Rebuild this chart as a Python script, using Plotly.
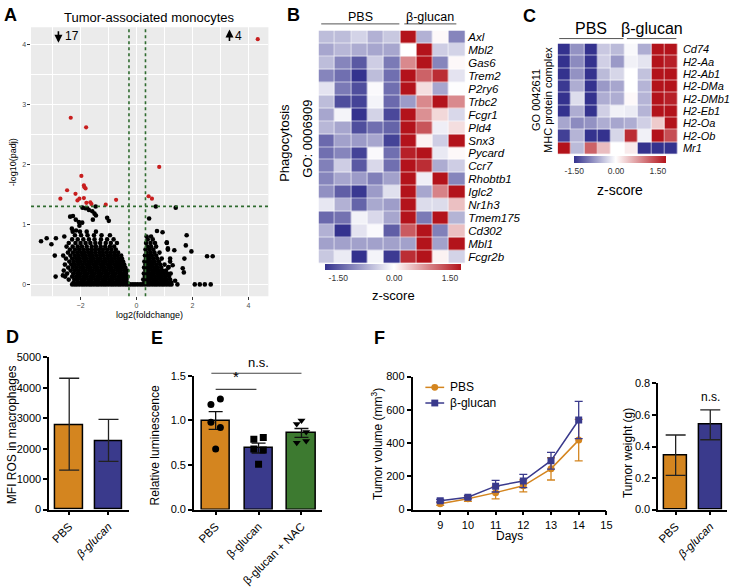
import plotly.graph_objects as go

W, H = 740, 587
def fx(px): return px / W
def fy(py): return 1 - py / H

FONT = "Liberation Sans, Arial, sans-serif"
ORANGE = "#D4851F"
NAVY = "#3A3A8C"
GREEN = "#3D7A30"
RED_PT = "#C81E1E"
THR_GREEN = "#2F6B2F"

# ---------------- Panel A: volcano ----------------
red_x = [-2.35, -1.80, -1.97, -1.88, -1.82, -2.48, -2.18, -2.04, -2.11, -1.88, -2.72,
         -1.79, -1.65, -1.61, -1.10, -0.73, -1.86, 0.81, 0.43, 0.55, 4.33]
red_y = [2.78, 2.62, 1.81, 1.65, 1.60, 1.57, 1.51, 1.43, 1.40, 1.44, 1.43,
         1.36, 1.37, 1.34, 1.33, 1.41, 1.62, 1.96, 1.47, 1.43, 4.09]

baseline_x = [-2.30, -2.21, -2.13, -2.04, -1.95, -1.87, -1.78, -1.69, -1.61, -1.52, -1.43,
              -1.35, -1.26, -1.17, -1.09, -1.00, -0.91, -0.83, -0.74, -0.65, -0.57, -0.48,
              -0.39, -0.31, -0.22, -0.13, -0.05, 0.04, 0.13, 0.21, 0.30, 0.39, 0.47, 0.56,
              0.65, 0.73, 0.82, 0.91, 0.99, 1.08, 1.17, 1.25]

left_cloud_rows = [
    (0.03, [-2.25, -2.12, -2.0, -1.88, -1.76, -1.64, -1.52, -1.4, -1.28, -1.16, -1.04, -0.92, -0.8, -0.68, -0.56, -0.44, -0.34]),
    (0.08, [-2.42, -2.22, -2.1, -1.97, -1.85, -1.72, -1.6, -1.47, -1.35, -1.22, -1.1, -0.97, -0.85, -0.72, -0.6, -0.48, -0.36]),
    (0.13, [-2.55, -2.3, -2.16, -2.04, -1.91, -1.79, -1.66, -1.54, -1.41, -1.29, -1.16, -1.04, -0.91, -0.79, -0.66, -0.54, -0.42, -0.32]),
    (0.18, [-2.48, -2.26, -2.12, -2.0, -1.87, -1.75, -1.62, -1.5, -1.37, -1.25, -1.12, -1.0, -0.87, -0.75, -0.62, -0.5, -0.38]),
    (0.23, [-2.6, -2.35, -2.2, -2.07, -1.94, -1.82, -1.69, -1.57, -1.44, -1.32, -1.19, -1.07, -0.94, -0.82, -0.69, -0.57, -0.44, -0.34]),
    (0.28, [-2.44, -2.27, -2.14, -2.01, -1.89, -1.76, -1.64, -1.51, -1.39, -1.26, -1.14, -1.01, -0.89, -0.76, -0.64, -0.52, -0.4]),
    (0.33, [-2.56, -2.33, -2.2, -2.06, -1.93, -1.8, -1.68, -1.55, -1.43, -1.3, -1.18, -1.05, -0.93, -0.8, -0.68, -0.56, -0.44]),
    (0.38, [-2.4, -2.25, -2.12, -1.99, -1.86, -1.73, -1.61, -1.48, -1.36, -1.23, -1.11, -0.98, -0.86, -0.73, -0.6, -0.48]),
    (0.43, [-2.52, -2.3, -2.16, -2.03, -1.9, -1.78, -1.65, -1.53, -1.4, -1.28, -1.15, -1.02, -0.9, -0.77, -0.64, -0.52]),
    (0.48, [-2.62, -2.36, -2.2, -2.07, -1.94, -1.82, -1.69, -1.56, -1.43, -1.3, -1.17, -1.04, -0.92, -0.8, -0.68, -0.55]),
    (0.53, [-2.45, -2.27, -2.12, -1.98, -1.85, -1.72, -1.6, -1.47, -1.33, -1.2, -1.06, -0.93, -0.8, -0.66]),
    (0.58, [-2.38, -2.2, -2.05, -1.9, -1.76, -1.62, -1.48, -1.34, -1.2, -1.05, -0.9, -0.74]),
    (0.63, [-2.5, -2.28, -2.1, -1.95, -1.78, -1.6, -1.45, -1.28, -1.12, -0.95, -0.8]),
    (0.69, [-2.42, -2.18, -2.0, -1.82, -1.65, -1.47, -1.3, -1.1, -0.92, -0.7]),
    (0.75, [-2.3, -2.1, -1.9, -1.7, -1.5, -1.27, -1.05, -0.82]),
    (0.82, [-2.2, -1.98, -1.75, -1.52, -1.25, -0.95]),
    (0.88, [-2.28, -2.02, -1.78, -1.45]),
]
right_cloud_rows = [
    (0.03, [0.28, 0.4, 0.52, 0.64, 0.76, 0.88, 1.0, 1.12, 1.24]),
    (0.08, [0.24, 0.36, 0.48, 0.6, 0.72, 0.84, 0.96, 1.08, 1.2]),
    (0.13, [0.3, 0.42, 0.54, 0.66, 0.78, 0.9, 1.02, 1.16]),
    (0.18, [0.26, 0.38, 0.5, 0.62, 0.74, 0.86, 0.98, 1.1, 1.22]),
    (0.23, [0.32, 0.44, 0.56, 0.68, 0.8, 0.92, 1.05]),
    (0.28, [0.27, 0.39, 0.51, 0.63, 0.75, 0.88, 1.14]),
    (0.33, [0.32, 0.45, 0.57, 0.7, 0.84, 1.0]),
    (0.38, [0.28, 0.4, 0.52, 0.65, 0.8, 1.2]),
    (0.43, [0.34, 0.47, 0.6, 0.74, 0.9]),
    (0.48, [0.3, 0.42, 0.55, 0.7]),
    (0.53, [0.36, 0.5, 0.64, 0.82]),
    (0.58, [0.32, 0.46, 0.6, 1.12]),
    (0.63, [0.38, 0.52, 0.7]),
    (0.69, [0.34, 0.5, 0.66, 1.08]),
    (0.75, [0.4, 0.58]),
    (0.80, [0.36, 0.52]),
]
outlier_x = [-3.41, -3.21, -3.04, -2.88, -2.58, -2.92, -2.89, -2.63, -2.37, -2.27, -2.17, -2.06,
             -1.94, -2.31, -2.16, -2.04, -1.93, -1.76, -1.70, -1.58, -1.46, -1.50, -1.56, -1.05,
             -0.99, -1.45, -1.83, 0.45, 0.69, 1.40, 0.73, 0.93, 1.79, 1.76, 1.96, 1.71, 1.65,
             1.69, 1.46, 2.08, 2.26, 2.44, 2.65, 2.52, 2.72, 1.35, 1.08, 1.20, 1.29, 1.12, 1.14, 1.38]
outlier_y = [0.72, 0.77, 0.67, 0.77, 0.80, 0.48, 0.13, 0.15, 1.13, 1.14, 1.08, 1.04,
             1.03, 0.93, 0.90, 0.98, 1.28, 1.27, 1.24, 1.22, 1.30, 1.18, 1.08, 1.11,
             1.06, 1.15, 1.27, 1.10, 1.30, 1.28, 0.89, 0.87, 0.82, 0.65, 0.55, 0.43, 0.27,
             0.20, 0.0, 0.0, 0.0, 0.0, 0.0, 0.47, 0.47, 0.57, 0.70, 0.43, 0.32, 0.60, 0.29, 0.06]

fc_thresholds = [-0.27, 0.32]
padj_threshold = 1.301
count_down, count_up = "17", "4"

# ---------------- Panel B: phagocytosis heatmap ----------------
genes_B = ["Axl", "Mbl2", "Gas6", "Trem2", "P2ry6", "Trbc2", "Fcgr1", "Pld4", "Snx3",
           "Pycard", "Ccr7", "Rhobtb1", "Iglc2", "Nr1h3", "Tmem175", "Cd302", "Mbl1", "Fcgr2b"]
z_B = [
    [-0.6, -0.6, -0.4, -0.7, -0.5, 1.8, -0.7, 0.05, -1.1],
    [-0.8, -0.65, -0.75, -0.8, -0.8, 0.0, 1.8, -0.45, -0.4],
    [-0.6, -1.1, -1.5, -0.45, -1.2, 0.9, 1.8, -1.1, 0.05],
    [-1.1, -1.3, -1.9, -0.6, -1.3, 1.8, 1.2, 1.6, -0.25],
    [-0.25, -1.2, -1.6, -0.05, -1.3, 1.8, 0.25, -0.8, -0.02],
    [-0.6, -1.6, -1.7, -0.1, -1.35, -0.9, 0.9, 1.8, 0.9],
    [-0.8, -0.1, -1.9, -0.4, -1.65, 1.8, 0.85, 0.3, -0.35],
    [-0.65, -0.8, -1.6, -1.3, -1.4, 1.8, 1.3, -0.15, 0.25],
    [-1.35, -0.85, -0.9, -0.8, -1.7, 1.8, 0.1, -0.45, 1.8],
    [-1.3, -1.1, -1.7, -0.05, -1.3, 1.7, 1.8, -0.2, 0.05],
    [-1.15, -0.45, -1.5, -0.35, -1.3, 1.8, 1.6, -0.75, -0.45],
    [-1.1, -0.8, -0.9, -1.15, -0.85, 1.8, -0.15, 1.8, -1.1],
    [-1.0, -1.45, -1.8, -0.9, -0.28, 1.8, -0.8, 0.95, 1.8],
    [-0.22, -0.7, -1.4, -0.78, -0.88, 1.8, -0.32, -0.32, 0.48],
    [-1.35, -1.27, -0.12, -0.35, -0.8, 1.8, -1.2, 1.8, -0.68],
    [-0.7, -1.85, -0.25, -0.05, -1.45, 1.25, 1.8, -1.15, 0.48],
    [-0.85, -0.85, -0.85, -0.85, -0.85, -0.85, 1.8, -0.85, 1.8],
    [-0.5, -0.18, -1.85, -0.1, -1.78, 1.6, 1.8, 0.1, -0.4],
]

# ---------------- Panel C: MHC heatmap ----------------
genes_C = ["Cd74", "H2-Aa", "H2-Ab1", "H2-DMa", "H2-DMb1", "H2-Eb1", "H2-Oa", "H2-Ob", "Mr1"]
z_C = [
    [-1.5, -0.8, -1.7, -0.4, -0.5, -0.05, -0.6, 1.8, 1.8],
    [-1.6, -0.85, -1.7, -0.35, -0.75, -0.1, -0.2, 1.8, 1.7],
    [-1.6, -0.8, -1.7, -0.5, -0.3, 0.0, -0.45, 1.8, 1.8],
    [-1.45, -0.6, -1.7, -0.75, -0.65, 0.0, -0.55, 1.8, 1.8],
    [-1.6, -0.25, -1.7, -0.6, -0.6, 0.05, -0.55, 1.8, 1.7],
    [-1.65, -0.6, -1.7, -0.35, -0.1, -0.15, -0.55, 1.8, 1.8],
    [-0.65, -0.85, -0.8, -0.6, -0.65, -0.6, -0.35, 0.4, 1.8],
    [-1.4, -0.55, -1.85, -1.7, -0.3, 1.6, -0.1, 1.8, 1.35],
    [1.8, -0.5, 1.2, 0.5, 0.0, 0.15, -1.5, -1.65, -1.65],
]
n_pbs, n_bg = 5, 4

# ---------------- Panel D ----------------
D_groups = ["PBS", "<i>β-glucan</i>"]
D_mean = [2783, 2248]
D_err_plus = [1530, 716]
D_err_minus = [1488, 664]

# ---------------- Panel E ----------------
E_groups = ["PBS", "β-glucan", "β-glucan + NAC"]
E_mean = [1.00, 0.69, 0.86]
E_sem = [0.10, 0.055, 0.05]
E_pts = [[1.18, 1.24, 0.98, 0.92, 0.68],
         [0.79, 0.81, 0.68, 0.67, 0.51],
         [0.96, 1.00, 0.87, 0.75, 0.77]]
E_offsets = [[-0.11, 0.11, -0.11, 0.11, 0.0],
             [-0.11, 0.11, -0.11, 0.11, 0.0],
             [-0.11, 0.0, 0.11, -0.11, 0.11]]
E_symbols = ["circle", "square", "triangle-down"]
E_star = (0.0, 0.95, 1.35)
E_ns = (-0.1, 2.0, 1.53)

# ---------------- Panel F ----------------
days = [9, 10, 11, 12, 13, 14]
vol_pbs = [35, 65, 102, 143, 245, 418]
vol_pbs_err = [10, 15, 38, 36, 67, 125]
vol_bg = [53, 74, 141, 172, 294, 539]
vol_bg_err = [8, 10, 35, 40, 50, 112]
series_names = ["PBS", "β-glucan"]

F_groups = ["PBS", "<i>β-glucan</i>"]
F_weight = [0.345, 0.538]
F_weight_err = [0.128, 0.095]

# =========================================================
fig = go.Figure()

# A
black_x, black_y = list(baseline_x), [0.0] * len(baseline_x)
for yy, xs in left_cloud_rows + right_cloud_rows:
    black_x += xs
    black_y += [yy] * len(xs)
black_x += outlier_x
black_y += outlier_y
fig.add_trace(go.Scatter(x=black_x, y=black_y, mode="markers", xaxis="x", yaxis="y",
                         marker=dict(color="black", size=4.6), showlegend=False, hoverinfo="skip"))
fig.add_trace(go.Scatter(x=red_x, y=red_y, mode="markers", xaxis="x", yaxis="y",
                         marker=dict(color=RED_PT, size=4.2), showlegend=False))

def cscale(zmin, zmax):
    m = -zmin / (zmax - zmin)
    return [[0, "#34328E"], [m, "#FFFFFF"], [1, "#B3131B"]]

# B heatmap
B_min, B_max = -1.85, 1.8
fig.add_trace(go.Heatmap(z=z_B, x=list(range(n_pbs + n_bg)), y=genes_B, xaxis="x2", yaxis="y2",
                         zmin=B_min, zmax=B_max, colorscale=cscale(B_min, B_max), xgap=0.6, ygap=0.6,
                         colorbar=dict(orientation="h", x=fx(395.5), xanchor="center", y=fy(263.5),
                                       yanchor="top", len=137.6 / W, lenmode="fraction", thickness=6,
                                       tickvals=[-1.5, 0, 1.5], ticktext=["-1.50", "0.00", "1.50"],
                                       tickfont=dict(size=8.5, family=FONT, color="#333"), ticks="",
                                       outlinewidth=0, xpad=0, ypad=0)))
# C heatmap
C_min, C_max = -1.5, 1.8
fig.add_trace(go.Heatmap(z=z_C, x=list(range(n_pbs + n_bg)), y=genes_C, xaxis="x3", yaxis="y3",
                         zmin=C_min, zmax=C_max, colorscale=cscale(C_min, C_max), xgap=0.6, ygap=0.6,
                         colorbar=dict(orientation="h", x=fx(625), xanchor="center", y=fy(153.2),
                                       yanchor="top", len=93.4 / W, lenmode="fraction", thickness=7,
                                       tickvals=[-1.5, 0, 1.5], ticktext=["-1.50", "0.00", "1.50"],
                                       tickfont=dict(size=8.5, family=FONT, color="#333"), ticks="",
                                       outlinewidth=0, xpad=0, ypad=0)))

# D bars
fig.add_trace(go.Bar(x=[0, 1], y=D_mean, xaxis="x4", yaxis="y4", width=0.69,
                     marker=dict(color=[ORANGE, NAVY], line=dict(color="black", width=1.5)),
                     error_y=dict(type="data", symmetric=False, array=D_err_plus, arrayminus=D_err_minus,
                                  color="#222", thickness=1.3, width=10),
                     showlegend=False))

# E bars + points
fig.add_trace(go.Bar(x=[0, 1, 2], y=E_mean, xaxis="x5", yaxis="y5", width=0.66,
                     marker=dict(color=[ORANGE, NAVY, GREEN], line=dict(color="black", width=1.5)),
                     error_y=dict(type="data", array=E_sem, color="#111", thickness=1.3, width=7),
                     showlegend=False))
for i in range(3):
    fig.add_trace(go.Scatter(x=[i + o for o in E_offsets[i]], y=E_pts[i], mode="markers",
                             xaxis="x5", yaxis="y5", showlegend=False,
                             marker=dict(color="black", size=7, symbol=E_symbols[i])))

# F line
fig.add_trace(go.Scatter(x=days, y=vol_pbs, mode="lines+markers", name=series_names[0], xaxis="x6", yaxis="y6",
                         line=dict(color=ORANGE, width=1.5), marker=dict(symbol="circle", size=7, color=ORANGE),
                         error_y=dict(type="data", array=vol_pbs_err, color=ORANGE, thickness=1.3, width=4),
                         showlegend=False))
fig.add_trace(go.Scatter(x=days, y=vol_bg, mode="lines+markers", name=series_names[1], xaxis="x6", yaxis="y6",
                         line=dict(color=NAVY, width=1.5), marker=dict(symbol="square", size=7, color=NAVY),
                         error_y=dict(type="data", array=vol_bg_err, color=NAVY, thickness=1.3, width=4),
                         showlegend=False))
# F bars
fig.add_trace(go.Bar(x=[0, 1], y=F_weight, xaxis="x7", yaxis="y7", width=0.67,
                     marker=dict(color=[ORANGE, NAVY], line=dict(color="black", width=1.5)),
                     error_y=dict(type="data", array=F_weight_err, color="#222", thickness=1.3, width=10),
                     showlegend=False))

# ---------------- axes ----------------
gp_axis = dict(showline=True, linecolor="black", linewidth=1.5, ticks="outside", ticklen=4,
               tickwidth=1.5, tickcolor="black", showgrid=False, zeroline=False,
               tickfont=dict(size=11, family=FONT, color="black"))
cat_font = dict(size=11.5, family=FONT, color="black")

layout = dict(
    width=W, height=H, autosize=False, margin=dict(l=0, r=0, t=0, b=0),
    paper_bgcolor="white", plot_bgcolor="rgba(0,0,0,0)",
    font=dict(family=FONT, color="black"),
    bargap=0, showlegend=False,
    # A
    xaxis=dict(domain=[fx(29.3), fx(269.3)], range=[-3.77, 4.71], anchor="y",
               tickvals=[-2, 0, 2, 4], showgrid=True, gridcolor="white", gridwidth=1.2,
               minor=dict(dtick=1, tick0=-3, showgrid=True, gridcolor="white", gridwidth=0.6),
               zeroline=False, showline=False, ticks="outside", ticklen=2.5, tickcolor="#333",
               tickwidth=0.8, tickfont=dict(size=7, color="#4D4D4D", family=FONT)),
    yaxis=dict(domain=[fy(296.7), fy(21.7)], range=[-0.196, 4.29], anchor="x",
               tickvals=[0, 1, 2, 3, 4], showgrid=True, gridcolor="white", gridwidth=1.2,
               minor=dict(dtick=0.5, showgrid=True, gridcolor="white", gridwidth=0.6),
               zeroline=False, showline=False, ticks="outside", ticklen=2.5, tickcolor="#333",
               tickwidth=0.8, tickfont=dict(size=7, color="#4D4D4D", family=FONT)),
    # B
    xaxis2=dict(domain=[fx(320), fx(468.3)], anchor="y2", range=[-0.5, 8.5], showticklabels=False,
                showgrid=False, zeroline=False, ticks=""),
    yaxis2=dict(domain=[fy(263.3), fy(25)], anchor="x2", autorange="reversed", side="right",
                tickvals=genes_B, ticktext=["<i>%s</i>" % g for g in genes_B], ticks="",
                showgrid=False, zeroline=False, ticklabelstandoff=2,
                tickfont=dict(size=11.5, family=FONT, color="black")),
    # C
    xaxis3=dict(domain=[fx(561.7), fx(683.3)], anchor="y3", range=[-0.5, 8.5], showticklabels=False,
                showgrid=False, zeroline=False, ticks=""),
    yaxis3=dict(domain=[fy(151.7), fy(38.3)], anchor="x3", autorange="reversed", side="right",
                tickvals=genes_C, ticktext=["<i>%s</i>" % g for g in genes_C], ticks="",
                showgrid=False, zeroline=False, ticklabelstandoff=4,
                tickfont=dict(size=11, family=FONT, color="black")),
    # D
    xaxis4=dict(gp_axis, domain=[fx(47.7), fx(128.3)], anchor="y4", range=[-0.51, 1.52],
                tickvals=[0, 1], ticktext=D_groups, tickangle=-45, tickfont=cat_font),
    yaxis4=dict(gp_axis, domain=[fy(515), fy(359.3)], anchor="x4", range=[0, 5000], dtick=1000),
    # E
    xaxis5=dict(gp_axis, domain=[fx(194), fx(324)], anchor="y5", range=[-0.507, 2.49],
                tickvals=[0, 1, 2], ticktext=E_groups, tickangle=-45, tickfont=cat_font),
    yaxis5=dict(gp_axis, domain=[fy(515), fy(378.3)], anchor="x5", range=[0, 1.5],
                tickvals=[0, 0.5, 1.0, 1.5], ticktext=["0.0", "0.5", "1.0", "1.5"]),
    # F line
    xaxis6=dict(gp_axis, domain=[fx(415), fx(611)], anchor="y6", range=[8, 15],
                tickvals=[9, 10, 11, 12, 13, 14, 15]),
    yaxis6=dict(gp_axis, domain=[fy(515), fy(379)], anchor="x6", range=[0, 800], dtick=200),
    # F bar
    xaxis7=dict(gp_axis, domain=[fx(663.3), fx(733.3)], anchor="y7", range=[-0.506, 1.494],
                tickvals=[0, 1], ticktext=F_groups, tickangle=-45, tickfont=cat_font),
    yaxis7=dict(gp_axis, domain=[fy(515), fy(386)], anchor="x7", range=[0, 0.8],
                tickvals=[0, 0.2, 0.4, 0.6, 0.8], ticktext=["0.0", "0.2", "0.4", "0.6", "0.8"]),
)
fig.update_layout(**layout)

shapes = []
# A grey panel background
shapes.append(dict(type="rect", xref="x domain", yref="y domain", x0=0, x1=1, y0=0, y1=1,
                   fillcolor="#EBEBEB", line=dict(width=0), layer="below"))
for t in fc_thresholds:
    shapes.append(dict(type="line", xref="x", yref="y domain", x0=t, x1=t, y0=0, y1=1,
                       line=dict(color=THR_GREEN, width=1.6, dash="dot"), layer="above"))
shapes.append(dict(type="line", xref="x domain", yref="y", x0=0, x1=1, y0=padj_threshold, y1=padj_threshold,
                   line=dict(color=THR_GREEN, width=1.6, dash="dot"), layer="above"))

def hline(x0, x1, y, color="#555", w=1.0):
    shapes.append(dict(type="line", xref="paper", yref="paper", x0=fx(x0), x1=fx(x1), y0=fy(y), y1=fy(y),
                       line=dict(color=color, width=w)))
hline(322.7, 401.7, 18.3)
hline(406.7, 459.3, 18.3)
hline(563.3, 628.3, 33.3)
hline(631.7, 681.7, 33.3)

# E significance bars (data -> paper)
E_dom_x = (fx(194), fx(324)); E_rx = (-0.507, 2.49)
E_dom_y = (fy(515), fy(378.3)); E_ry = (0, 1.5)
def epx(v): return E_dom_x[0] + (v - E_rx[0]) / (E_rx[1] - E_rx[0]) * (E_dom_x[1] - E_dom_x[0])
def epy(v): return E_dom_y[0] + (v - E_ry[0]) / (E_ry[1] - E_ry[0]) * (E_dom_y[1] - E_dom_y[0])
for (a, b, yv) in (E_star, E_ns):
    shapes.append(dict(type="line", xref="paper", yref="paper", x0=epx(a), x1=epx(b), y0=epy(yv), y1=epy(yv),
                       line=dict(color="#444", width=1.2)))

# manual legend for panel F
leg_rows = [(390, ORANGE, "circle"), (406, NAVY, "square")]
for (ly, col, sym) in leg_rows:
    hline(428, 447, ly, color=col, w=1.5)
    r = 3.5
    shapes.append(dict(type="circle" if sym == "circle" else "rect", xref="paper", yref="paper",
                       x0=fx(437.5 - r), x1=fx(437.5 + r), y0=fy(ly + r), y1=fy(ly - r),
                       fillcolor=col, line=dict(color=col, width=0)))
fig.update_layout(shapes=shapes)

ann = []
def txt(x, y, s, size=12, bold=False, angle=0, color="black", xanchor="center", yanchor="middle",
        xref="paper", yref="paper", family=FONT):
    ann.append(dict(x=x, y=y, xref=xref, yref=yref, text=("<b>%s</b>" % s) if bold else s, showarrow=False,
                    font=dict(size=size, family=family, color=color), textangle=angle,
                    xanchor=xanchor, yanchor=yanchor))

# panel letters
txt(fx(9), fy(9), "A", 18, True)
txt(fx(295), fy(9), "B", 18, True)
txt(fx(533), fy(10), "C", 18, True)
txt(fx(11), fy(338), "D", 18, True)
txt(fx(157), fy(340), "E", 18, True)
txt(fx(382), fy(340), "F", 18, True)

# A texts
txt(fx(149.3), fy(11.7), "Tumor-associated monocytes", 13)
txt(fx(12), fy(160), "-log10(padj)", 9, angle=-90)
txt(fx(149.3), fy(315.5), "log2(foldchange)", 9)
txt(-2.31, 4.14, count_down, 12, xref="x", yref="y")
txt(3.66, 4.14, count_up, 12, xref="x", yref="y")
# direction arrows (drawn as annotation arrows)
ann.append(dict(x=-2.79, y=4.03, xref="x", yref="y", ax=0, ay=-13, text="", showarrow=True,
                arrowhead=2, arrowsize=1, arrowwidth=1.6, arrowcolor="black"))
ann.append(dict(x=3.32, y=4.25, xref="x", yref="y", ax=0, ay=13, text="", showarrow=True,
                arrowhead=2, arrowsize=1, arrowwidth=1.6, arrowcolor="black"))

# B texts
txt(fx(362), fy(11.7), "PBS", 12.5)
txt(fx(433), fy(11.7), "β-glucan", 12.5)
txt(fx(286), fy(140), "Phagocytosis", 13, angle=-90)
txt(fx(309), fy(136), "GO: 0006909", 13, angle=-90)
txt(fx(395.5), fy(296), "z-score", 13)

# C texts
txt(fx(595.5), fy(23.5), "PBS", 16)
txt(fx(657.3), fy(23.5), "β-glucan", 16)
txt(fx(540), fy(96), "GO 0042611", 11, angle=-90)
txt(fx(552), fy(96), "MHC protein complex", 11, angle=-90)
txt(fx(625), fy(188), "z-score", 14)

# D/E/F axis titles
txt(fx(10), fy(438), "MFI ROS in macrophages", 12, angle=-90)
txt(fx(155), fy(449), "Relative luminescence", 12, angle=-90)
txt(fx(379), fy(448), "Tumor volume (mm<sup>3</sup>)", 12, angle=-90)
txt(fx(633), fy(457), "Tumor weight (g)", 12, angle=-90)
txt(fx(512.7), fy(542), "Days", 12)

# F legend labels
txt(fx(451), fy(390), series_names[0], 12, xanchor="left")
txt(fx(451), fy(406), series_names[1], 12, xanchor="left")

# significance labels
txt(epx((E_star[0] + E_star[1]) / 2), epy(E_star[2]) + 0.004, "*", 15, yanchor="bottom")
txt(epx(1.0), epy(E_ns[2]) + 0.003, "n.s.", 13, yanchor="bottom")
txt(1, 0.712, "n.s.", 12, xref="x7", yref="y7")

fig.update_layout(annotations=ann)
fig.write_html("out.html", config={"displayModeBar": False},
               post_script="document.body.style.margin='0px';document.body.style.overflow='hidden';")
